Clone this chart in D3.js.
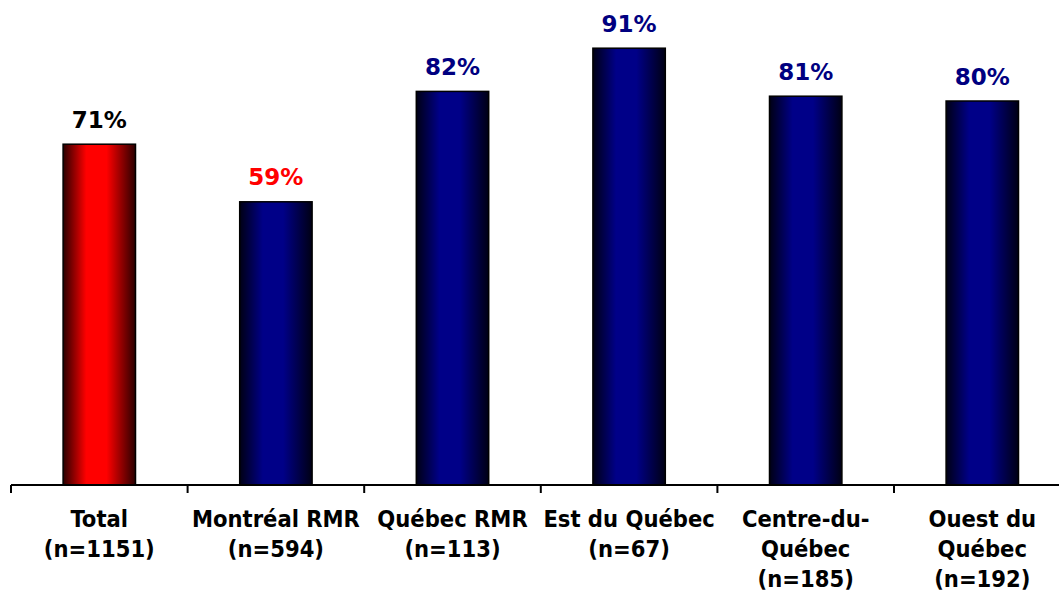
<!DOCTYPE html>
<html>
<head>
<meta charset="utf-8">
<script src="https://cdn.jsdelivr.net/npm/d3@7"></script>
<style>
  body { margin: 0; background: #fff; }
  svg { display: block; }
</style>
</head>
<body>
<svg id="chart"></svg>
<script>
// data
var categories = ["Total", "Montréal RMR", "Québec RMR", "Est du Québec", "Centre-du-Québec", "Ouest du Québec"]
var labelLines = [
  ["Total", "(n=1151)"],
  ["Montréal RMR", "(n=594)"],
  ["Québec RMR", "(n=113)"],
  ["Est du Québec", "(n=67)"],
  ["Centre-du-", "Québec", "(n=185)"],
  ["Ouest du", "Québec", "(n=192)"]
]
var values = [71, 59, 82, 91, 81, 80]
var yDomain = [0, 100]

var width = 1059, height = 593
var axisY = 485

var svg = d3.select("#chart")
  .attr("width", width)
  .attr("height", height)

// gradients for the cylinder look
var defs = svg.append("defs")
function addGradient(id, dark, bright) {
  var g = defs.append("linearGradient")
    .attr("id", id)
    .attr("x1", "0%").attr("y1", "0%")
    .attr("x2", "100%").attr("y2", "0%")
  g.append("stop").attr("offset", "0%").attr("stop-color", dark)
  g.append("stop").attr("offset", "32%").attr("stop-color", bright)
  g.append("stop").attr("offset", "60%").attr("stop-color", bright)
  g.append("stop").attr("offset", "100%").attr("stop-color", dark)
}
addGradient("gradRed", "#2a0000", "#ff0000")
addGradient("gradNavy", "#000014", "#000088")

var x = d3.scaleBand()
  .domain(categories)
  .range([11, 1070.6])
  .paddingInner(0.59)
  .paddingOuter(0.295)

var y = d3.scaleLinear()
  .domain(yDomain)
  .range([axisY, 5])

var step = x.step()

// bars
svg.selectAll("rect.bar")
  .data(values)
  .enter().append("rect")
  .attr("class", "bar")
  .attr("x", (d, i) => x(categories[i]))
  .attr("y", d => y(d))
  .attr("width", x.bandwidth())
  .attr("height", d => y(0) - y(d))
  .attr("fill", (d, i) => i == 0 ? "url(#gradRed)" : "url(#gradNavy)")
  .attr("stroke", "#000")
  .attr("stroke-width", 1.5)

// value labels
svg.selectAll("text.val")
  .data(values)
  .enter().append("text")
  .attr("class", "val")
  .attr("x", (d, i) => x(categories[i]) + x.bandwidth() / 2)
  .attr("y", d => y(d) - 16.5)
  .attr("text-anchor", "middle")
  .attr("font-family", "'DejaVu Sans', Verdana, sans-serif")
  .attr("font-weight", "bold")
  .attr("font-size", 23)
  .attr("fill", (d, i) => i == 0 ? "#000" : (i == 1 ? "#ff0000" : "#000080"))
  .text(d => d + "%")

// axis line + boundary ticks
svg.append("line")
  .attr("x1", 11).attr("x2", width)
  .attr("y1", axisY).attr("y2", axisY)
  .attr("stroke", "#000").attr("stroke-width", 2)

var tickXs = d3.range(categories.length + 1).map(i => 11 + i * step)
svg.selectAll("line.tick")
  .data(tickXs)
  .enter().append("line")
  .attr("class", "tick")
  .attr("x1", d => d).attr("x2", d => d)
  .attr("y1", axisY).attr("y2", axisY + 8)
  .attr("stroke", "#000").attr("stroke-width", 2)

// category labels
var cats = svg.selectAll("text.cat")
  .data(labelLines)
  .enter().append("text")
  .attr("class", "cat")
  .attr("text-anchor", "middle")
  .attr("font-family", "'DejaVu Sans Condensed', 'DejaVu Sans', sans-serif")
  .attr("font-weight", "bold")
  .attr("font-size", 23.5)
  .attr("fill", "#000")

cats.selectAll("tspan")
  .data((d, i) => d.map(t => ({t: t, cx: x(categories[i]) + x.bandwidth() / 2})))
  .enter().append("tspan")
  .attr("x", d => d.cx)
  .attr("y", (d, j) => 527 + j * 30)
  .text(d => d.t)
</script>
</body>
</html>
